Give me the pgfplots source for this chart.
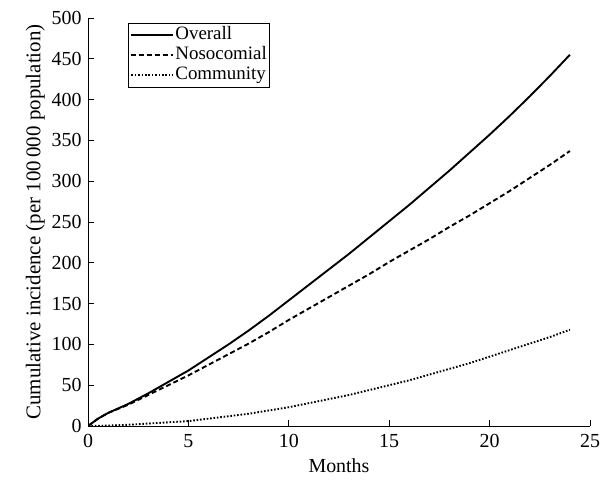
\documentclass[border=0pt]{standalone}
\usepackage{fontspec}
\setmainfont{Liberation Serif}
\usepackage{pgfplots}
\pgfplotsset{compat=1.18}
\begin{document}
\begin{tikzpicture}
\path[use as bounding box] (0,0) rectangle (604bp,486bp);
\begin{axis}[
  at={(88bp,60bp)}, anchor=south west,
  width=502bp, height=408bp, scale only axis,
  xmin=0, xmax=25, ymin=0, ymax=500,
  axis x line=bottom, axis y line=left,
  axis line style={-, line width=1pt},
  tick align=inside,
  major tick length=6bp,
  tick style={line width=1pt, black},
  xtick={0,5,...,25}, ytick={0,50,...,500},
  /pgf/number format/assume math mode=true,
  font=\fontsize{20}{23}\selectfont,
  ticklabel style={font=\fontsize{20}{23}\selectfont},
  xticklabel style={yshift=-5bp},
  yticklabel style={xshift=-3bp},
  xlabel={Months}, ylabel={Cumulative incidence (per 100\,000 population)},
  xlabel style={yshift=-4bp},
  ylabel style={yshift=0bp, font=\fontsize{21}{24}\selectfont},
  legend cell align=left,
  legend style={at={(axis description cs:0.0797,0.988)}, anchor=north west,
    draw=black, line width=1pt, inner xsep=2bp, inner ysep=2bp, row sep=0bp,
    nodes={text height=13bp, text depth=5bp, inner sep=1bp},
    font=\fontsize{19}{21}\selectfont},
  legend image code/.code={\draw[#1] (0bp,0bp) -- (42bp,0bp);},
]
\addplot[black, line width=1.9pt] coordinates {
(0,0) (0.5,9) (1,16) (2,27) (3,40) (4,54) (5,68) (6,84) (7,100) (8,117) (9,135) (10,154) (11,173) (12,192) (13,211) (14,231) (15,251) (16,271) (17,292) (18,313) (19,335) (20,357) (21,380) (22,404) (23,429) (24,455)};
\addlegendentry{Overall}
\addplot[black, line width=1.9pt, dash pattern=on 5bp off 3bp] coordinates {
(0,0) (0.5,9) (1,16) (2,26) (3,38) (4,50) (5,62) (6,75) (7,88) (8,101) (9,115) (10,130) (11,144) (12,158) (13,172) (14,186) (15,201) (16,215) (17,229) (18,244) (19,258) (20,273) (21,288) (22,304) (23,320) (24,337)};
\addlegendentry{Nosocomial}
\addplot[black, line width=1.9pt, dash pattern=on 1.6bp off 1.8bp] coordinates {
(0,0) (1,0.5) (2,1.5) (3,3) (4,4.5) (5,6) (6,9) (7,12) (8,15) (9,19) (10,23) (11,28) (12,33) (13,38) (14,44) (15,50) (16,56) (17,63) (18,70) (19,77) (20,85) (21,93) (22,101) (23,109) (24,118)};
\addlegendentry{Community}
\end{axis}
\end{tikzpicture}
\end{document}
